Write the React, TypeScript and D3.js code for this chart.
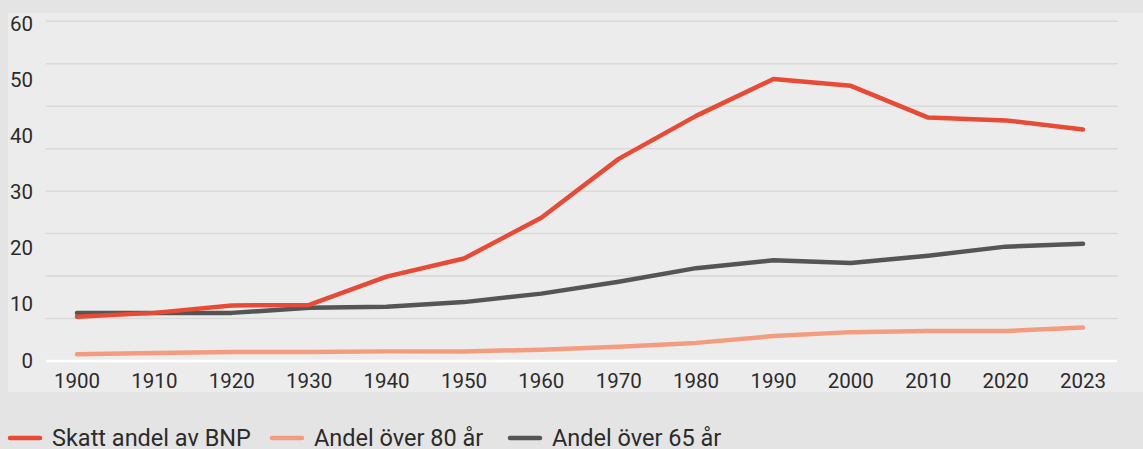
import React from "react";
import * as d3 from "d3";

const years = ["1900","1910","1920","1930","1940","1950","1960","1970","1980","1990","2000","2010","2020","2023"];
const skatt = [7.8, 8.5, 9.8, 9.9, 14.9, 18.1, 25.3, 35.7, 43.3, 49.8, 48.6, 43.0, 42.5, 40.9];
const over80 = [1.2, 1.4, 1.6, 1.6, 1.7, 1.7, 2.0, 2.5, 3.2, 4.4, 5.1, 5.3, 5.3, 5.9];
const over65 = [8.5, 8.5, 8.5, 9.4, 9.6, 10.4, 11.9, 14.0, 16.4, 17.8, 17.3, 18.6, 20.2, 20.7];
const yTickLabels = [0, 10, 20, 30, 40, 50, 60];
const series = [
  { name: "Skatt andel av BNP", values: skatt, color: "#e84a36" },
  { name: "Andel över 80 år", values: over80, color: "#f39c80" },
  { name: "Andel över 65 år", values: over65, color: "#555555" },
];
const drawOrder = [1, 2, 0];

export default function App() {
  const W = 1143, H = 449;
  const x = d3.scalePoint<string>().domain(years).range([77, 1083]);
  const y = d3.scaleLinear().domain([0, 60]).range([361, 21.3]);
  const yLab = d3.scaleLinear().domain([0, 60]).range([360.5, 23.5]);
  const gridVals = d3.range(1, 9).map((i) => i * 7.5);
  const line = d3.line<number>().x((_, i) => x(years[i])!).y((d) => y(d));
  const legendX = [10, 272, 510];
  const font = "Roboto, 'Noto Sans', sans-serif";
  return (
    <svg width={W} height={H} style={{ position: "absolute", left: 0, top: 0, display: "block" }} fontFamily={font}>
      <rect x={0} y={0} width={W} height={H} fill="#e4e4e4" />
      <rect x={8} y={13} width={W - 8} height={379} fill="#ececec" />
      {gridVals.map((v) => (
        <line key={v} x1={46} x2={1118} y1={y(v)} y2={y(v)} stroke="#d9d9d9" strokeWidth={1.5} />
      ))}
      <line x1={46} x2={1117} y1={y(0)} y2={y(0)} stroke="#ffffff" strokeWidth={2.5} />
      {yTickLabels.map((v) => (
        <text key={v} x={33} y={yLab(v)} textAnchor="end" dominantBaseline="central" fontSize={20.5} fill="#2b2b2b">{v}</text>
      ))}
      {years.map((yr) => (
        <text key={yr} x={x(yr)} y={388} textAnchor="middle" fontSize={20.5} fill="#2b2b2b">{yr}</text>
      ))}
      {drawOrder.map((i) => (
        <path key={series[i].name} d={line(series[i].values)!} fill="none" stroke={series[i].color} strokeWidth={4.5} strokeLinejoin="round" strokeLinecap="round" />
      ))}
      {series.map((s, i) => (
        <g key={s.name} transform={`translate(${legendX[i]},438)`}>
          <line x1={0} x2={30} y1={0} y2={0} stroke={s.color} strokeWidth={4.5} strokeLinecap="round" />
          <text x={42} y={7.5} fontSize={23.5} fill="#2b2b2b">{s.name}</text>
        </g>
      ))}
    </svg>
  );
}
